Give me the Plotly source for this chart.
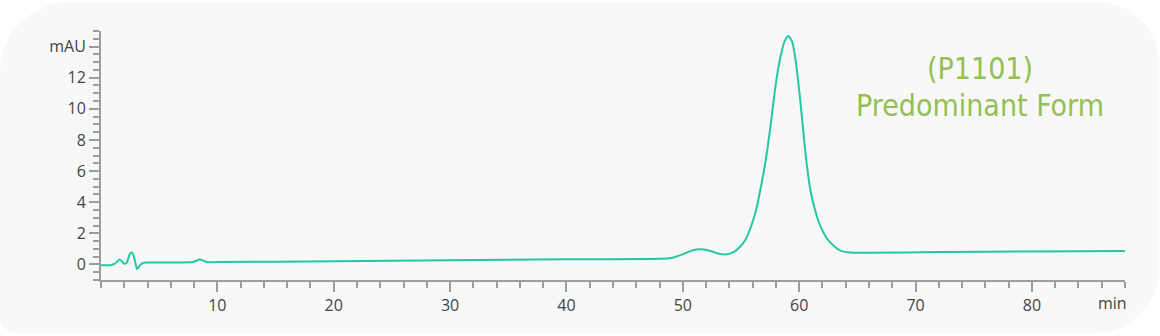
import plotly.graph_objects as go

# ---- data ----
time_min = [0, 0.8, 1.2, 1.6, 2.0, 2.2, 2.5, 2.7, 2.9, 3.1, 3.3, 3.6, 4, 6, 7.9, 8.5, 9.1, 10,
            20, 30, 40, 48, 49, 50, 50.8, 51.5, 52.3, 53.2, 53.8, 54.4, 54.9, 55.4, 55.9, 56.3,
            56.63, 57.15, 57.55, 57.9, 58.2, 58.5, 58.75, 59.07, 59.4, 59.64, 60.0, 60.3, 60.59,
            60.99, 61.4, 61.79, 62.4, 63.08, 63.6, 64.4, 66, 72, 80, 88]
absorbance_mau = [-0.05, -0.05, 0.05, 0.32, 0.05, 0.1, 0.7, 0.75, 0.3, -0.3, -0.1, 0.1, 0.12, 0.13,
                  0.15, 0.32, 0.15, 0.15, 0.2, 0.27, 0.33, 0.37, 0.42, 0.65, 0.9, 0.97, 0.88, 0.68,
                  0.65, 0.8, 1.12, 1.6, 2.52, 3.5, 4.67, 6.82, 8.97, 11.1, 12.6, 13.7, 14.35,
                  14.68, 14.3, 13.4, 11.2, 8.97, 6.82, 4.67, 3.4, 2.52, 1.65, 1.12, 0.87, 0.76,
                  0.75, 0.8, 0.83, 0.86]

x_tick_vals = [10, 20, 30, 40, 50, 60, 70, 80]
x_tick_text = ["10", "20", "30", "40", "50", "60", "70", "80"]
y_tick_vals = [0, 2, 4, 6, 8, 10, 12, 14]
y_tick_text = ["0", "2", "4", "6", "8", "10", "12", "mAU"]
x_unit_label = "min"
title_lines = ["(P1101)", "Predominant Form"]

# ---- layout geometry ----
W, H = 1160, 336
ML, MR, MT, MB = 101, 35, 31, 56
PW, PH = W - ML - MR, H - MT - MB


def px(x):
    return (x - ML) / PW


def py(y):
    return (H - MB - y) / PH


def rounded_rect(x0, y0, x1, y1, rtl, rtr, rbr, rbl):
    k = 0.5523
    pts = []
    pts.append(f"M {px(x0 + rtl)} {py(y0)}")
    pts.append(f"L {px(x1 - rtr)} {py(y0)}")
    pts.append(f"C {px(x1 - rtr + k * rtr)} {py(y0)} {px(x1)} {py(y0 + rtr - k * rtr)} {px(x1)} {py(y0 + rtr)}")
    pts.append(f"L {px(x1)} {py(y1 - rbr)}")
    pts.append(f"C {px(x1)} {py(y1 - rbr + k * rbr)} {px(x1 - rbr + k * rbr)} {py(y1)} {px(x1 - rbr)} {py(y1)}")
    pts.append(f"L {px(x0 + rbl)} {py(y1)}")
    pts.append(f"C {px(x0 + rbl - k * rbl)} {py(y1)} {px(x0)} {py(y1 - rbl + k * rbl)} {px(x0)} {py(y1 - rbl)}")
    pts.append(f"L {px(x0)} {py(y0 + rtl)}")
    pts.append(f"C {px(x0)} {py(y0 + rtl - k * rtl)} {px(x0 + rtl - k * rtl)} {py(y0)} {px(x0 + rtl)} {py(y0)}")
    pts.append("Z")
    return " ".join(pts)


fig = go.Figure()
fig.add_trace(go.Scatter(
    x=time_min, y=absorbance_mau, mode="lines",
    line=dict(color="#26c6a6", width=2, shape="spline", smoothing=0.6),
    hoverinfo="skip", showlegend=False,
))

axis_color = "#9d9d9d"
tick_font = dict(family="Open Sans, Noto Sans, sans-serif", size=16, color="#444444")
title_font = dict(family="Liberation Sans Narrow, DejaVu Sans Condensed, sans-serif", size=30, color="#93c054")

fig.update_xaxes(
    range=[0, 88], showgrid=False, zeroline=False,
    showline=True, linecolor=axis_color, linewidth=2,
    ticks="outside", ticklen=10, tickwidth=2, tickcolor=axis_color,
    tickvals=x_tick_vals, ticktext=x_tick_text, tickfont=tick_font,
    minor=dict(tick0=0, dtick=2, ticks="outside", ticklen=6, tickwidth=2, tickcolor=axis_color),
    fixedrange=True,
)
fig.update_yaxes(
    range=[-1, 15], showgrid=False, zeroline=False,
    showline=True, linecolor=axis_color, linewidth=2,
    ticks="outside", ticklen=10, tickwidth=2, tickcolor=axis_color,
    tickvals=y_tick_vals, ticktext=y_tick_text, tickfont=tick_font,
    minor=dict(tick0=-1, dtick=0.5, ticks="outside", ticklen=6, tickwidth=2, tickcolor=axis_color),
    fixedrange=True,
)

annotations = [
    dict(text=x_unit_label, x=px(1112), y=py(303), xref="paper", yref="paper",
         showarrow=False, xanchor="center", yanchor="middle", font=tick_font),
    dict(text=title_lines[0], x=px(980), y=py(68), xref="paper", yref="paper",
         showarrow=False, xanchor="center", yanchor="middle", font=title_font),
    dict(text=title_lines[1], x=px(980), y=py(105), xref="paper", yref="paper",
         showarrow=False, xanchor="center", yanchor="middle", font=title_font),
]

fig.update_layout(
    width=W, height=H,
    margin=dict(l=ML, r=MR, t=MT, b=MB),
    paper_bgcolor="#ffffff", plot_bgcolor="rgba(0,0,0,0)",
    shapes=[dict(type="path", xref="paper", yref="paper", layer="below",
                 path=rounded_rect(0, 2, 1159, 333, 70, 62, 65, 16),
                 fillcolor="#f8f8f8", line=dict(width=0))],
    annotations=annotations,
)

fig.write_html("out.html", config={"displayModeBar": False})
